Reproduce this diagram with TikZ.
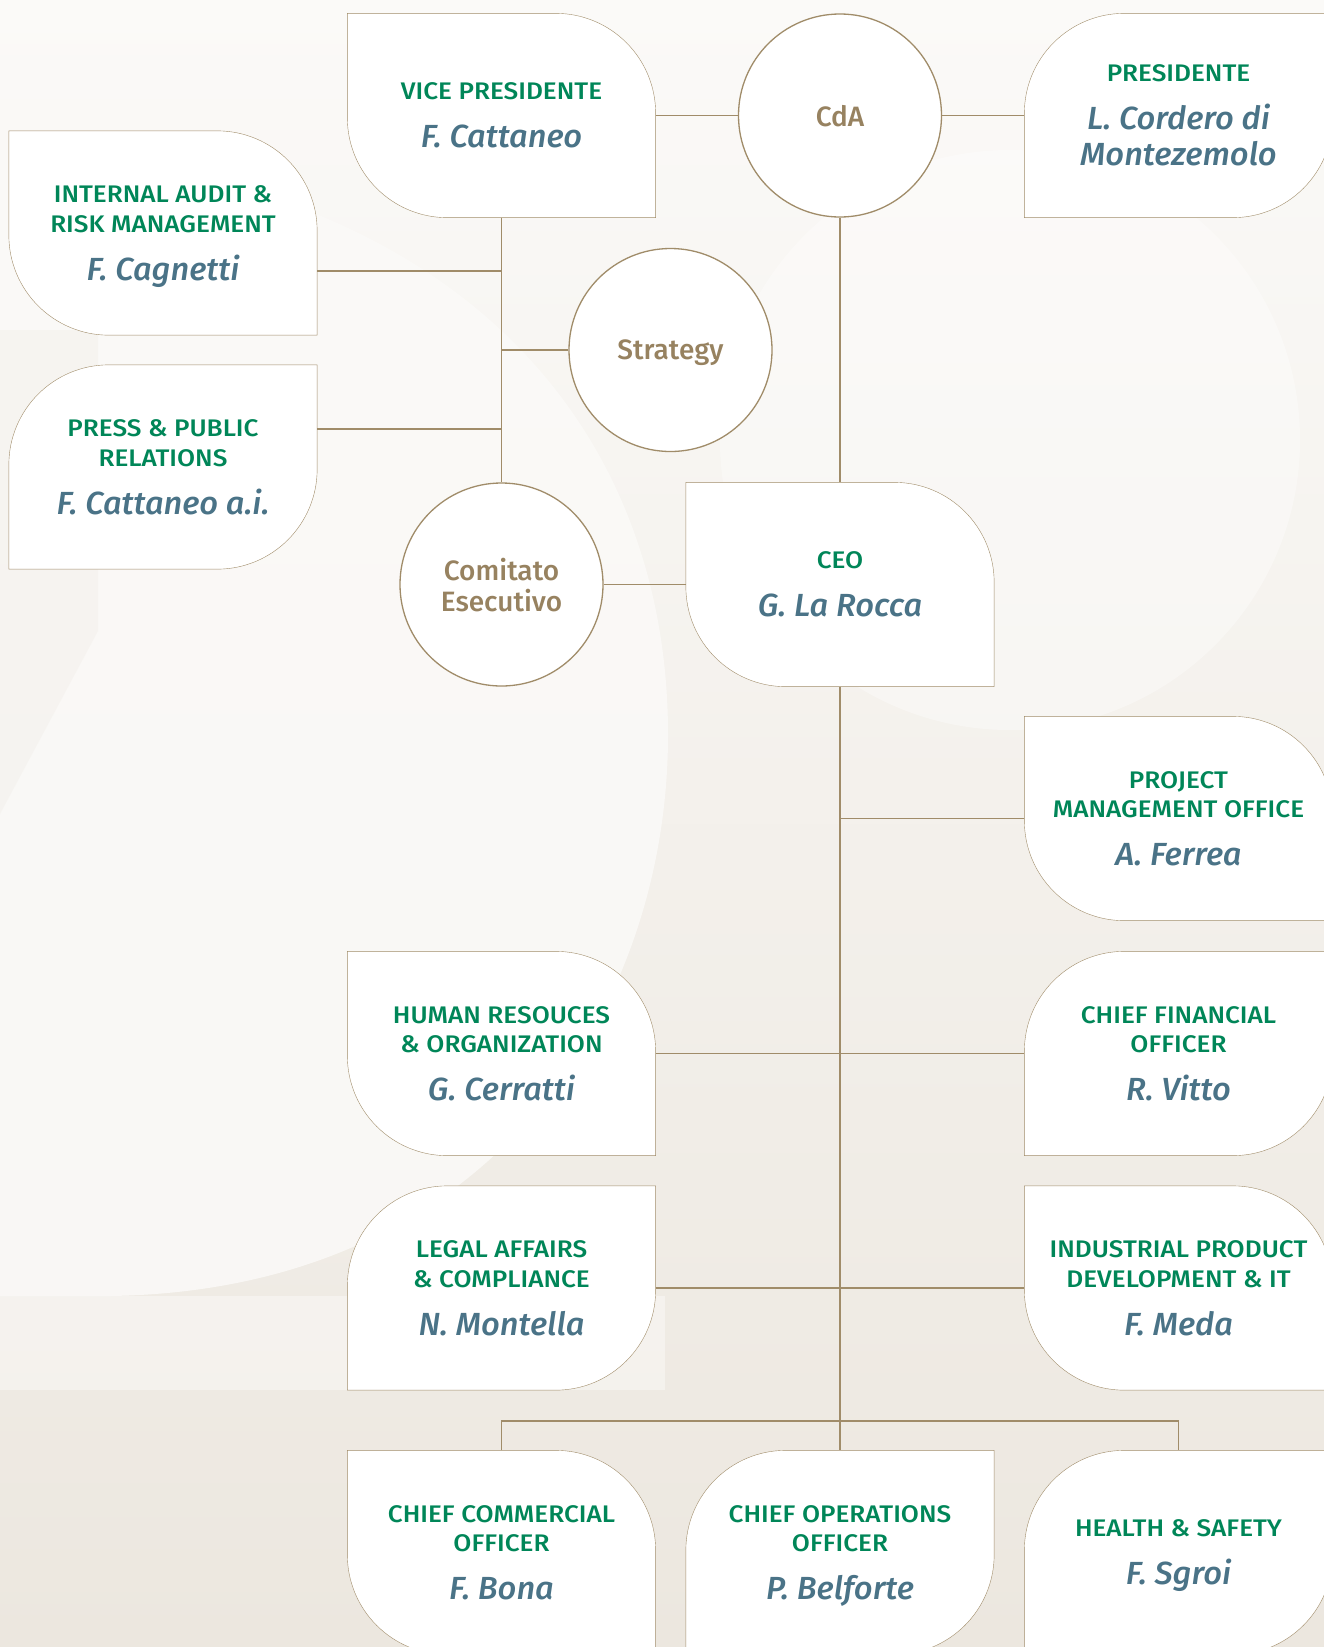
\documentclass[tikz,border=0pt]{standalone}
\usepackage{fontspec}
\setmainfont{Fira Sans}[UprightFont=* Medium, ItalicFont=* Medium Italic]
\newfontfamily\rolefont{Fira Sans}[UprightFont=* Medium, FakeStretch=1.09]
\newfontfamily\namefont{Fira Sans}[UprightFont=* Medium Italic, FakeStretch=1.02]
\usetikzlibrary{calc}

\definecolor{rolegreen}{HTML}{008658}
\definecolor{namegray}{HTML}{4A7387}
\definecolor{boardbrown}{HTML}{978260}
\definecolor{wirebrown}{HTML}{A08C69}
\definecolor{paper}{HTML}{FBFAF8}
\definecolor{sand}{HTML}{ECE7DF}

\newcommand\staffname[1]{{\namefont\fontsize{32}{36}\selectfont\color{namegray}#1}}

\pgfdeclarelayer{deco}
\pgfdeclarelayer{leaves}
\pgfsetlayers{deco,leaves,main}

\begin{document}
\begin{tikzpicture}[
        x=1pt,
        y=1pt,
        yscale=-1,
        line width=1.3pt,
        every node/.style={inner sep=0pt},
        unit/.style={rectangle, minimum width=307pt, minimum height=203pt,
            align=center, text=rolegreen, text depth=0pt,
            font=\rolefont\fontsize{24}{29.5}\selectfont},
        board/.style={circle, draw=wirebrown, fill=white, minimum size=203pt,
            align=center, text=boardbrown, text depth=0pt,
            font=\fontsize{28}{31}\selectfont},
        leaf/.style={draw=wirebrown, fill=white},
        link/.style={draw=wirebrown}
    ]
    \useasboundingbox (0,0) rectangle (1324,1647);

    % board and committees
    \node[board] (cda) at (840,115.5) {CdA};
    \node[board] (strat) at (670.5,350) {Strategy};
    \node[board] (comit) at (501.5,584.5) {Comitato\\Esecutivo};

    % top
    \node[unit] (vp) at (501.5,115.5) {VICE PRESIDENTE\\[18.5pt]\staffname{F. Cattaneo}};
    \node[unit] (pres) at (1178.5,115.5) {PRESIDENTE\\[18.5pt]\staffname{L. Cordero di}\\[6.5pt]\staffname{Montezemolo}};
    \node[unit] (audit) at (163,233) {INTERNAL AUDIT \&\\RISK MANAGEMENT\\[18.5pt]\staffname{F. Cagnetti}};
    \node[unit] (press) at (163,467) {PRESS \& PUBLIC\\RELATIONS\\[18.5pt]\staffname{F. Cattaneo a.i.}};
    \node[unit] (ceo) at (840,584.5) {CEO\\[18.5pt]\staffname{G. La Rocca}};

    % under the CEO
    \node[unit] (pmo) at (1178.5,818.5) {PROJECT\\MANAGEMENT OFFICE\\[18.5pt]\staffname{A. Ferrea}};
    \node[unit] (hr) at (501.5,1053.5) {HUMAN RESOUCES\\\& ORGANIZATION\\[18.5pt]\staffname{G. Cerratti}};
    \node[unit] (cfo) at (1178.5,1053.5) {CHIEF FINANCIAL\\OFFICER\\[18.5pt]\staffname{R. Vitto}};
    \node[unit] (legal) at (501.5,1288) {LEGAL AFFAIRS\\\& COMPLIANCE\\[18.5pt]\staffname{N. Montella}};
    \node[unit] (ind) at (1178.5,1288) {INDUSTRIAL PRODUCT\\DEVELOPMENT \& IT\\[18.5pt]\staffname{F. Meda}};
    \node[unit] (cco) at (501.5,1552.5) {CHIEF COMMERCIAL\\OFFICER\\[18.5pt]\staffname{F. Bona}};
    \node[unit] (coo) at (840,1552.5) {CHIEF OPERATIONS\\OFFICER\\[18.5pt]\staffname{P. Belforte}};
    \node[unit] (hs) at (1178.5,1552.5) {HEALTH \& SAFETY\\[18.5pt]\staffname{F. Sgroi}};

    \coordinate (auditjoint) at (501.5,271);
    \coordinate (pressjoint) at (501.5,429);
    \coordinate (bus) at (840,1421);

    \draw[link] (vp) -- (cda) -- (pres);
    \draw[link] (cda) -- (ceo);
    \draw[link] (vp) -- (comit);
    \draw[link] (audit.east |- auditjoint) -- (auditjoint);
    \draw[link] (press.east |- pressjoint) -- (pressjoint);
    \draw[link] (strat) -- (strat -| vp.south);
    \draw[link] (comit) -- (ceo);
    \draw[link] (ceo) -- (coo);
    \draw[link] (pmo) -- (pmo -| ceo.south);
    \draw[link] (hr) -- (cfo);
    \draw[link] (legal) -- (ind);
    \draw[link] (cco) |- (bus) -| (hs);

    % leaf outlines
    \begin{pgfonlayer}{leaves}
        \foreach \n in {vp, audit, ceo, pmo, hr, ind, cco}
            \path[leaf] (\n.north west) -- ($(\n.north east)+(-100,0)$)
                arc[start angle=270, end angle=360, radius=100]
                -- (\n.south east) -- ($(\n.south west)+(100,0)$)
                arc[start angle=90, end angle=180, radius=100] -- cycle;
        \foreach \n in {pres, press, cfo, legal, coo, hs}
            \path[leaf] ($(\n.north west)+(0,100)$)
                arc[start angle=180, end angle=270, radius=100]
                -- (\n.north east) -- ($(\n.south east)+(0,-100)$)
                arc[start angle=0, end angle=90, radius=100]
                -- (\n.south west) -- cycle;
    \end{pgfonlayer}

    % background
    \begin{pgfonlayer}{deco}
        \shade[top color=paper, bottom color=sand] (0,0) rectangle (1324,1647);
        \fill[white, opacity=0.35] (1010,440) circle[radius=290];
        \fill[paper, opacity=0.85] (0,150) -- (0,1296) -- (110,1296)
            .. controls (500,1290) and (668,1000) .. (668,735)
            .. controls (668,420) and (450,170) .. (0,150) -- cycle;
        \fill[sand, opacity=0.25] (0,330) -- (98,330) -- (98,631) -- (0,814) -- cycle;
        \fill[paper, opacity=0.5] (0,1296) rectangle (665,1390);
    \end{pgfonlayer}
\end{tikzpicture}
\end{document}
